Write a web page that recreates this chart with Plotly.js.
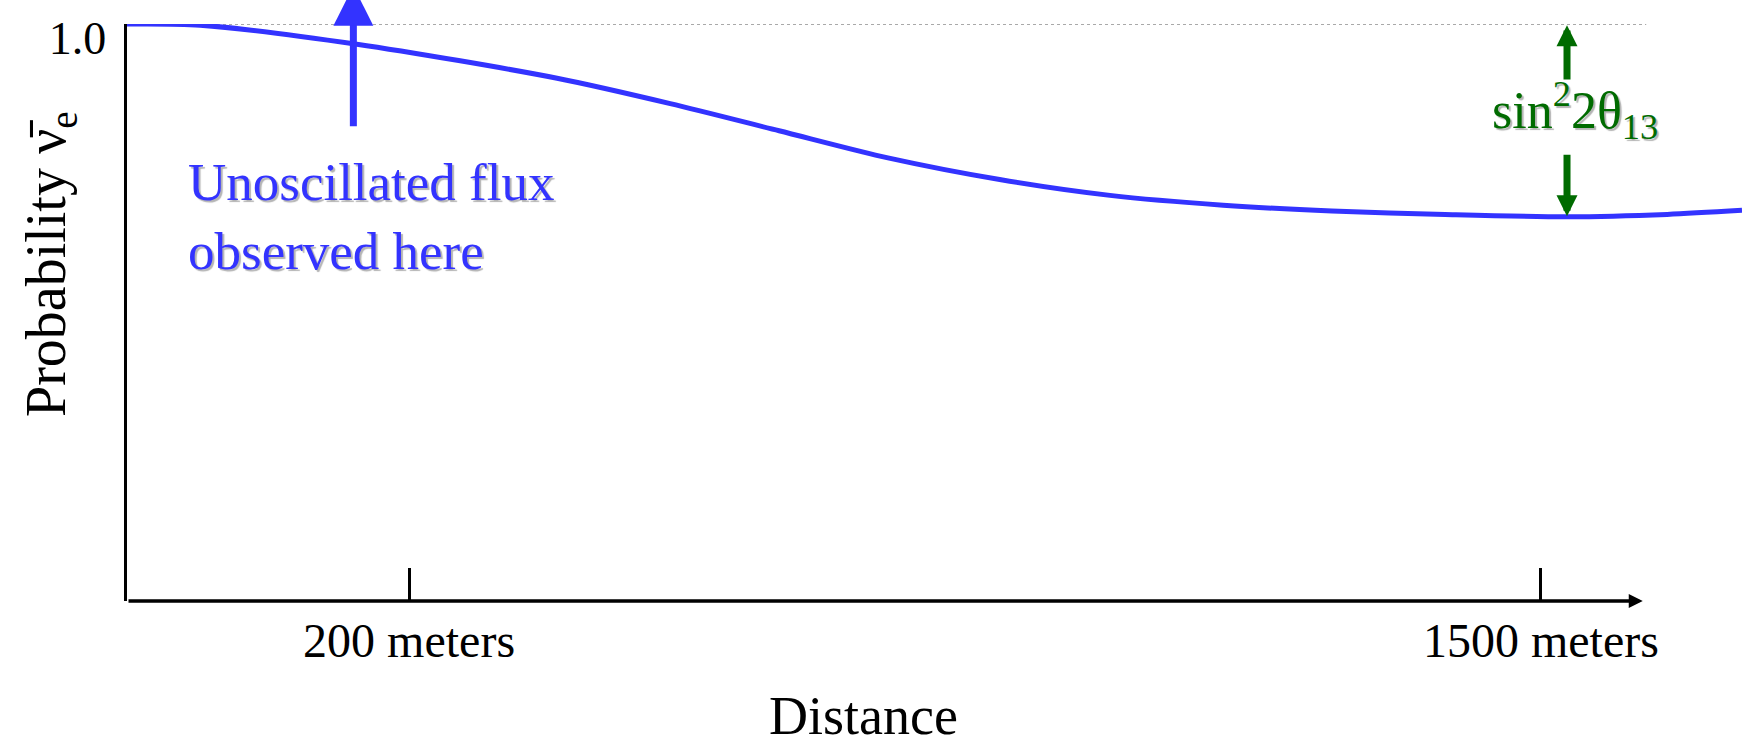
<!DOCTYPE html>
<html>
<head>
<meta charset="utf-8">
<script src="https://cdn.plot.ly/plotly-3.0.1.min.js"></script>
<style>html,body{margin:0;padding:0;background:#fff;}#chart{width:1742px;height:747px;}</style>
</head>
<body>
<div id="chart"></div>
<script>
// ---- data (schematic survival probability vs distance) ----
const distance    = [-124, -40, 140, 370, 500, 625, 750, 880, 1005, 1135, 1260, 1390, 1530, 1645, 1731];
const probability = [1.000, 0.998, 0.965, 0.906, 0.862, 0.815, 0.768, 0.730, 0.703, 0.686, 0.676, 0.670, 0.666, 0.670, 0.677];
const xTickVals   = [200, 1500];
const xTickText   = ['200 meters', '1500 meters'];
const yTickVals   = [1.0];
const yTickText   = ['1.0'];
const xAxisStart  = -124;
const xAxisEnd    = 1617;
const oscMinX     = 1530;

const BLUE = '#3333ff';
const GREEN = '#006b00';
const SERIF = '"Liberation Serif", "Times New Roman", Times, serif';
const SHADOW = '2px 2px 1px #b4b4b4';

const trace = {
  x: distance, y: probability, type: 'scatter', mode: 'lines',
  line: {color: BLUE, width: 5, shape: 'spline', smoothing: 0.8},
  hoverinfo: 'skip', showlegend: false
};

const layout = {
  width: 1742, height: 747,
  margin: {l: 127, r: 0, t: 24, b: 146, pad: 0},
  paper_bgcolor: '#fff', plot_bgcolor: '#fff',
  font: {family: SERIF, color: '#000'},
  showlegend: false,
  xaxis: {
    range: [xAxisStart, 1731], showline: false, showgrid: false, zeroline: false,
    tickmode: 'array', tickvals: xTickVals, ticktext: xTickText,
    ticks: 'inside', ticklen: 33, tickwidth: 3, tickcolor: '#000',
    tickfont: {family: SERIF, size: 48, color: '#000'},
    ticklabelstandoff: 7, fixedrange: true
  },
  yaxis: {
    range: [0, 1], showline: true, linewidth: 3.5, linecolor: '#000',
    showgrid: false, zeroline: false,
    tickmode: 'array', tickvals: yTickVals, ticktext: yTickText, ticks: '',
    tickfont: {family: SERIF, size: 46, color: '#000'},
    ticklabelstandoff: 8, ticklabelshift: 14, ticklabeloverflow: 'allow', fixedrange: true
  },
  shapes: [
    {type: 'line', xref: 'x', yref: 'y', x0: xAxisStart, x1: xAxisEnd + 4, y0: 1, y1: 1,
     line: {color: '#555', width: 1, dash: 'dot'}, layer: 'below'}
  ],
  annotations: [
    // x axis arrow
    {xref: 'x', yref: 'y', axref: 'x', ayref: 'y', x: xAxisEnd, y: 0, ax: xAxisStart, ay: 0,
     text: '', showarrow: true, arrowhead: 2, arrowwidth: 3.5, arrowsize: 0.8, arrowcolor: '#000'},
    // blue arrow
    {xref: 'x', yref: 'y', axref: 'x', ayref: 'y', x: 136, y: 1.066, ax: 136, ay: 0.82,
     text: '', showarrow: true, arrowhead: 2, arrowwidth: 7, arrowsize: 1.14, arrowcolor: BLUE},
    // blue text
    {xref: 'paper', yref: 'paper', x: 0.0365, y: 0.667, xanchor: 'left', yanchor: 'middle', align: 'left',
     text: 'Unoscillated flux<br>observed here', showarrow: false,
     font: {family: SERIF, size: 53, color: BLUE, shadow: SHADOW}},
    // green arrows
    {xref: 'x', yref: 'y', axref: 'x', ayref: 'y', x: oscMinX, y: 0.998, ax: oscMinX, ay: 0.901,
     text: '', showarrow: true, arrowhead: 2, arrowwidth: 7, arrowsize: 0.6, arrowcolor: GREEN},
    {xref: 'x', yref: 'y', axref: 'x', ayref: 'y', x: oscMinX, y: 0.667, ax: oscMinX, ay: 0.776,
     text: '', showarrow: true, arrowhead: 2, arrowwidth: 7, arrowsize: 0.6, arrowcolor: GREEN},
    {xref: 'x', yref: 'y', x: oscMinX + 9, y: 0.85, xanchor: 'center', yanchor: 'middle',
     text: 'sin<sup>2</sup>2θ<sub>13</sub>', showarrow: false,
     font: {family: SERIF, size: 52, color: GREEN, shadow: SHADOW}},
    // axis titles
    {xref: 'paper', yref: 'paper', x: 0.456, y: -0.2, xanchor: 'center', yanchor: 'middle',
     text: 'Distance', showarrow: false, font: {family: SERIF, size: 54, color: '#000'}},
    {xref: 'paper', yref: 'paper', x: -0.0477, y: 0.584, xanchor: 'center', yanchor: 'middle',
     textangle: -90, text: 'Probability ν\u0304<sub>e</sub>', showarrow: false,
     font: {family: SERIF, size: 56, color: '#000'}}
  ]
};

Plotly.newPlot('chart', [trace], layout, {displayModeBar: false, staticPlot: true});
</script>
</body>
</html>
